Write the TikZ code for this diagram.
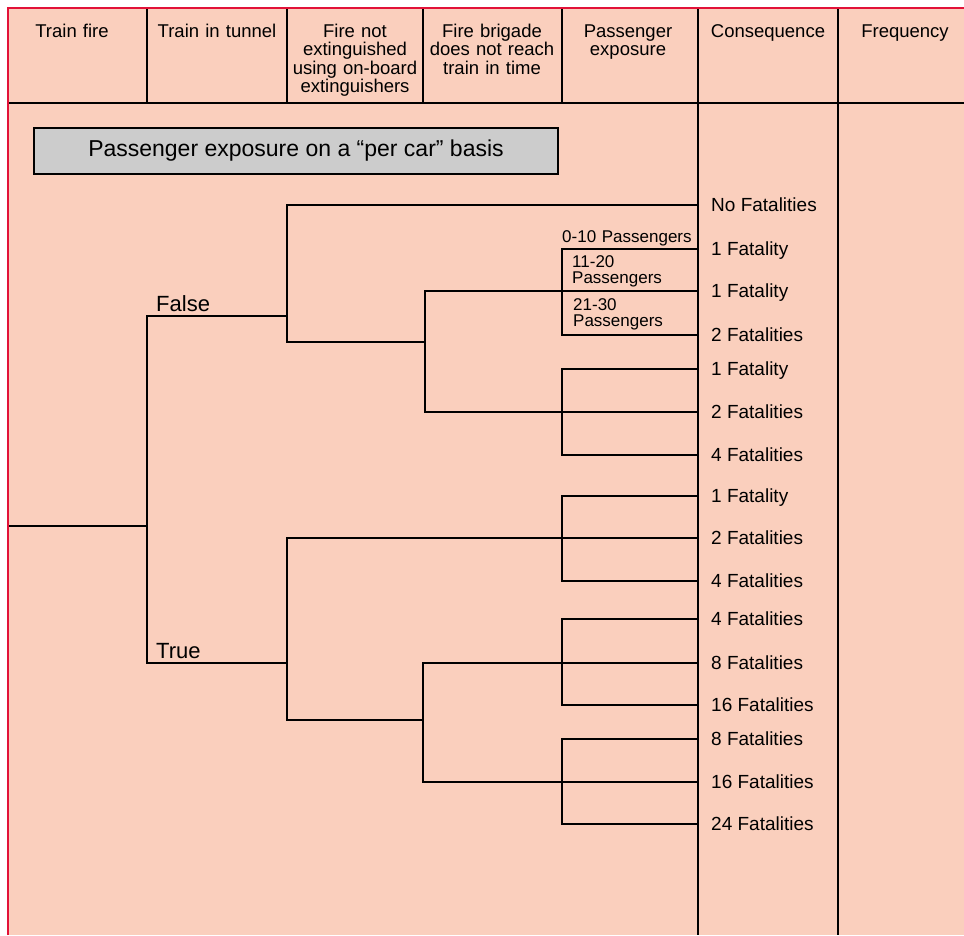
\documentclass[tikz,border=0pt]{standalone}
\usepackage{fontspec}
\setmainfont{Liberation Sans}
\usetikzlibrary{positioning}
\definecolor{peach}{RGB}{250,207,189}
\definecolor{frame}{RGB}{226,18,56}
\definecolor{boxgrey}{RGB}{204,204,204}

\begin{document}
\begin{tikzpicture}[x=1pt,y=-1pt]
\tikzstyle{grid} = [line width=1.8pt]
\tikzstyle{branch} = [line width=1.5pt]
\tikzstyle{head} = [inner sep=0pt, text width=132pt, align=center, anchor=base, font=\fontsize{18.5}{18.5}\selectfont]
\tikzstyle{cons} = [inner sep=0pt, text height=13.6pt, text depth=0pt, font=\fontsize{19}{19}\selectfont]
\tikzstyle{pax} = [inner sep=0pt, text width=140pt, align=left, anchor=base west, font=\fontsize{17}{16.5}\selectfont]
\tikzstyle{answer} = [inner sep=0pt, anchor=base west, font=\fontsize{22}{22}\selectfont]
\tikzstyle{note} = [rectangle, draw, line width=1.5pt, fill=boxgrey, minimum width=524pt, minimum height=46pt, font=\fontsize{23}{23}\selectfont]

\useasboundingbox (0,0) rectangle (964,935);
\fill[peach] (8,8) rectangle (964,935);
\draw[frame, line width=2pt] (8,935) -- (8,8) -- (964,8);

\draw[grid] (9,103) -- (964,103);
\foreach \x in {147,287,423,562} \draw[grid] (\x,9) -- (\x,103);
\foreach \x in {698,838} \draw[grid] (\x,9) -- (\x,935);

\node[head] (hfire) at (72,37) {Train fire};
\node[head] (htunnel) at (217,37) {Train in tunnel};
\node[head] (hext) at (355,37) {Fire not\\extinguished\\using on-board\\extinguishers};
\node[head] (hbrig) at (492,37) {Fire brigade\\does not reach\\train in time};
\node[head] (hpax) at (628,37) {Passenger\\exposure};
\node[head] (hcons) at (768,37) {Consequence};
\node[head] (hfreq) at (905,37) {Frequency};

\node[note] (basis) at (296,151) {Passenger exposure on a ``per car'' basis};

\foreach \y/\t [count=\i] in {205/No Fatalities, 249/1 Fatality, 291/1 Fatality, 335/2 Fatalities, 369/1 Fatality, 412/2 Fatalities, 455/4 Fatalities, 496/1 Fatality, 538/2 Fatalities, 581/4 Fatalities, 619/4 Fatalities, 663/8 Fatalities, 705/16 Fatalities, 739/8 Fatalities, 782/16 Fatalities, 824/24 Fatalities}
{
  \coordinate (e\i) at (698,\y);
  \node[cons, right=13pt of e\i] (c\i) {\t};
}

\coordinate (root) at (9,526);
\coordinate (fire) at (147,526);
\coordinate (fls) at (287,316);
\coordinate (tru) at (287,663);
\coordinate (fb) at (425,342);
\coordinate (fg1) at (562,291);
\coordinate (fg2) at (562,412);
\coordinate (tb) at (423,720);
\coordinate (tg1) at (562,538);
\coordinate (tg2) at (562,663);
\coordinate (tg3) at (562,782);

\draw[branch] (root) -- (fire);
\draw[branch] (fls) -| (fire) |- (tru);
\draw[branch] (e1) -| (fls) |- (fb);
\draw[branch] (e3) -| (fb) |- (e6);
\draw[branch] (e2) -| (fg1) |- (e4);
\draw[branch] (e5) -| (fg2) |- (e7);
\draw[branch] (e9) -| (tru) |- (tb);
\draw[branch] (e8) -| (tg1) |- (e10);
\draw[branch] (e12) -| (tb) |- (e15);
\draw[branch] (e11) -| (tg2) |- (e13);
\draw[branch] (e14) -| (tg3) |- (e16);

\node[answer] (lfalse) at (156,311) {False};
\node[answer] (ltrue) at (156,658) {True};

\node[pax] (p1) at (562,242) {0-10 Passengers};
\node[pax] (p2) at (572,267) {11-20\\Passengers};
\node[pax] (p3) at (573,310) {21-30\\Passengers};
\end{tikzpicture}
\end{document}
